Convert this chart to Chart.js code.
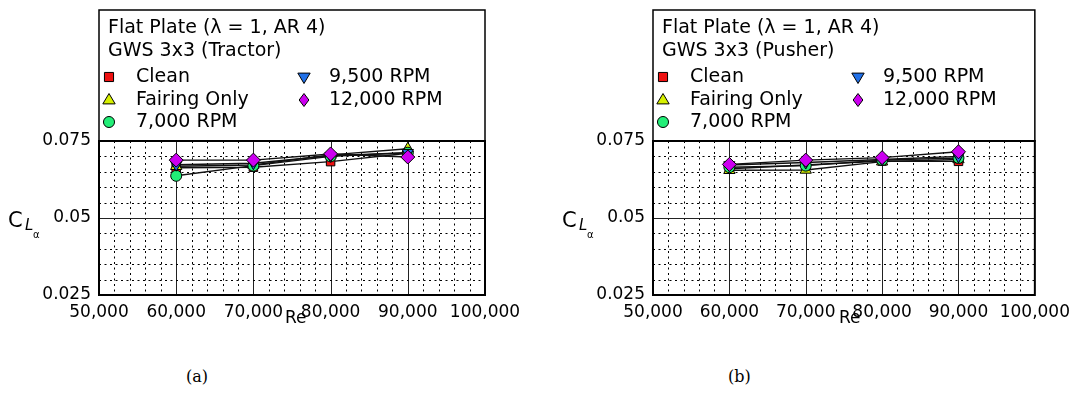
<!DOCTYPE html>
<html>
<head>
<meta charset="utf-8">
<script src="https://cdn.jsdelivr.net/npm/chart.js@4.4.1/dist/chart.umd.min.js"></script>
<style>
  body { margin: 0; background: #fff; width: 1077px; height: 405px; position: relative; overflow: hidden; }
  canvas { position: absolute; top: 0; }
  .cap { position: absolute; top: 367px; font: 16px "DejaVu Serif", serif; color: #000; }
</style>
</head>
<body>
<canvas id="chartA" width="540" height="340" style="left:0"></canvas>
<canvas id="chartB" width="537" height="340" style="left:540px"></canvas>
<div class="cap" style="left:186px">(a)</div>
<div class="cap" style="left:728px">(b)</div>
<script>
// data
const reynolds = [60000, 70000, 80000, 90000];
const seriesNames = ['Clean', 'Fairing Only', '7,000 RPM', '9,500 RPM', '12,000 RPM'];

// (a) tractor
const tractorClean   = [0.0663, 0.0665, 0.0683, 0.0710];
const tractorFairing = [0.0668, 0.0672, 0.0705, 0.0725];
const tractor7000    = [0.0637, 0.0670, 0.0700, 0.0712];
const tractor9500    = [0.0673, 0.0678, 0.0702, 0.0712];
const tractor12000   = [0.0688, 0.0688, 0.0708, 0.0698];

// (b) pusher
const pusherClean   = [0.0660, 0.0672, 0.0685, 0.0684];
const pusherFairing = [0.0655, 0.0656, 0.0683, 0.0690];
const pusher7000    = [0.0665, 0.0670, 0.0688, 0.0695];
const pusher9500    = [0.0672, 0.0680, 0.0690, 0.0700];
const pusher12000   = [0.0674, 0.0688, 0.0696, 0.0715];

const xTickValues = [50000, 60000, 70000, 80000, 90000, 100000];
const yTickValues = [0.025, 0.05, 0.075];

// marker styles per series
const markerStyles = ['rect', 'triangle', 'circle', 'triangle', 'rectRot'];
const markerRotation = [0, 0, 0, 180, 0];
const markerRadius = [6, 6.5, 5.5, 6.5, 7];
const markerColors = ['#ee1111', '#d6f000', '#22ee77', '#2070e8', '#cc00f0'];

const FONT = '"DejaVu Sans", sans-serif';

// draws one point marker, used for the legend keys
function drawMarker(ctx, style, rot, x, y, r, fill) {
  ctx.save();
  ctx.translate(x, y);
  ctx.rotate(rot * Math.PI / 180);
  ctx.beginPath();
  if (style === 'rect') {
    const s = r * 0.7;
    ctx.rect(-s, -s, 2 * s, 2 * s);
  } else if (style === 'triangle') {
    ctx.moveTo(0, -r);
    ctx.lineTo(r * 0.95, r * 0.6);
    ctx.lineTo(-r * 0.95, r * 0.6);
    ctx.closePath();
  } else if (style === 'circle') {
    ctx.arc(0, 0, r * 0.85, 0, Math.PI * 2);
  } else {
    ctx.moveTo(0, -r);
    ctx.lineTo(r * 0.75, 0);
    ctx.lineTo(0, r);
    ctx.lineTo(-r * 0.75, 0);
    ctx.closePath();
  }
  ctx.fillStyle = fill;
  ctx.fill();
  ctx.lineWidth = 1;
  ctx.strokeStyle = '#000';
  ctx.stroke();
  ctx.restore();
}

const framePlugin = {
  id: 'frame',
  beforeDatasetsDraw(chart, args, opts) {
    const ctx = chart.ctx;
    const a = chart.chartArea;
    const xs = chart.scales.x, ys = chart.scales.y;
    ctx.save();

    // minor dotted + major solid grid
    ctx.lineWidth = 1;
    for (let k = 1; k < 25; k++) {
      const v = 50000 + k * 2000;
      const px = Math.round(xs.getPixelForValue(v)) + 0.5;
      const major = v % 10000 === 0;
      ctx.setLineDash(major ? [] : [2, 3.5]);
      ctx.strokeStyle = major ? '#222' : '#000';
      ctx.beginPath(); ctx.moveTo(px, a.top); ctx.lineTo(px, a.bottom); ctx.stroke();
    }
    for (let k = 1; k < 10; k++) {
      const v = 0.025 + k * 0.005;
      const py = Math.round(ys.getPixelForValue(v)) + 0.5;
      const major = k % 5 === 0;
      ctx.setLineDash(major ? [] : [2, 3.5]);
      ctx.strokeStyle = major ? '#222' : '#000';
      ctx.beginPath(); ctx.moveTo(a.left, py); ctx.lineTo(a.right, py); ctx.stroke();
    }
    ctx.setLineDash([]);

    // plot frame and legend box
    ctx.strokeStyle = '#000';
    ctx.lineWidth = 2;
    ctx.strokeRect(a.left, a.top, a.right - a.left, a.bottom - a.top);
    ctx.lineWidth = 1.5;
    ctx.strokeRect(a.left, 10, a.right - a.left, a.top - 10);

    // legend text
    ctx.fillStyle = '#000';
    ctx.font = '19px ' + FONT;
    ctx.textBaseline = 'middle';
    ctx.textAlign = 'left';
    ctx.fillText(opts.titleLines[0], a.left + 9, 28);
    ctx.fillText(opts.titleLines[1], a.left + 9, 51);
    const slots = [[10, 37, 77], [10, 37, 100], [10, 37, 122], [205, 230, 77], [205, 230, 100]];
    chart.data.datasets.forEach((ds, i) => {
      const s = slots[i];
      drawMarker(ctx, markerStyles[i], markerRotation[i], a.left + s[0], s[2], 6.5, markerColors[i]);
      ctx.fillStyle = '#000';
      ctx.fillText(ds.label, a.left + s[1], s[2]);
    });

    // axis titles
    ctx.textBaseline = 'alphabetic';
    ctx.font = '17px ' + FONT;
    ctx.fillText('Re', a.left + 186, 323);
    ctx.font = '21px ' + FONT;
    ctx.fillText('C', a.left - 91, 227);
    ctx.font = 'italic 15px ' + FONT;
    ctx.fillText('L', a.left - 74, 230);
    ctx.font = '10px ' + FONT;
    ctx.fillText('\u03b1', a.left - 66, 238);
    ctx.restore();
  }
};

function buildChart(id, plotLeft, plotRight, width, titleLines, values) {
  const datasets = seriesNames.map((name, i) => ({
    label: name,
    data: reynolds.map((re, j) => ({ x: re, y: values[i][j] })),
    borderColor: '#111',
    borderWidth: 1.4,
    pointStyle: markerStyles[i],
    rotation: markerRotation[i],
    pointRadius: markerRadius[i],
    pointBackgroundColor: markerColors[i],
    pointBorderColor: '#000',
    pointBorderWidth: 1,
    order: 5 - i,
    tension: 0,
    fill: false
  }));

  return new Chart(document.getElementById(id), {
    type: 'line',
    data: { datasets },
    options: {
      responsive: false,
      animation: false,
      devicePixelRatio: 1,
      layout: { padding: { left: plotLeft - 60, right: width - plotRight, top: 141, bottom: 340 - 295 - 30 } },
      plugins: {
        legend: { display: false },
        tooltip: { enabled: false },
        frame: { titleLines }
      },
      scales: {
        x: {
          type: 'linear', min: 50000, max: 100000,
          grid: { display: false, drawTicks: false },
          border: { display: false },
          afterBuildTicks: s => { s.ticks = xTickValues.map(v => ({ value: v })); },
          afterFit: s => { s.height = 30; },
          ticks: {
            color: '#000', font: { family: FONT, size: 17 }, padding: 7,
            maxRotation: 0, autoSkip: false,
            callback: v => v.toLocaleString('en-US')
          }
        },
        y: {
          type: 'linear', min: 0.025, max: 0.075,
          grid: { display: false, drawTicks: false },
          border: { display: false },
          afterBuildTicks: s => { s.ticks = yTickValues.map(v => ({ value: v })); },
          afterFit: s => { s.width = 60; },
          ticks: {
            color: '#000', font: { family: FONT, size: 17 }, padding: 8,
            callback: v => String(v)
          }
        }
      }
    },
    plugins: [framePlugin]
  });
}

buildChart('chartA', 99, 485, 540,
  ['Flat Plate (\u03bb = 1, AR 4)', 'GWS 3x3 (Tractor)'],
  [tractorClean, tractorFairing, tractor7000, tractor9500, tractor12000]);

buildChart('chartB', 113, 497, 537,
  ['Flat Plate (\u03bb = 1, AR 4)', 'GWS 3x3 (Pusher)'],
  [pusherClean, pusherFairing, pusher7000, pusher9500, pusher12000]);
</script>
</body>
</html>
